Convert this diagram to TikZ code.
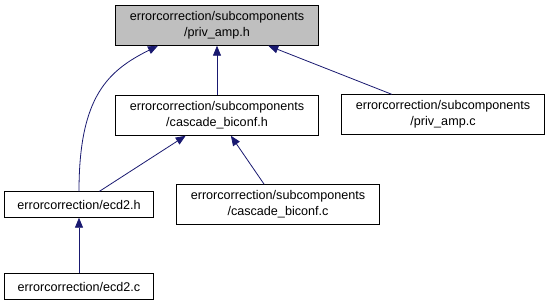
\documentclass[tikz,border=0pt]{standalone}
\usepackage{fontspec}
\setmainfont{Liberation Sans}
\usetikzlibrary{arrows.meta}
\definecolor{edgeblue}{RGB}{25,25,112}
\definecolor{boxgray}{RGB}{191,191,191}
\tikzset{
  file/.style={draw=black, fill=white, align=center, inner sep=0pt,
    font=\fontsize{12.6}{16}\selectfont, minimum width=203pt, minimum height=40pt},
  short/.style={minimum width=149pt, minimum height=26pt},
  inc/.style={draw=edgeblue, line width=0.8pt, {Triangle[length=10pt,width=8pt]}-}
}
\begin{document}
\begin{tikzpicture}[x=1pt,y=-1pt]
  \useasboundingbox (0,0) rectangle (549,305);
  \draw
    (217,25.5) node[file, fill=boxgray] (privamph) {errorcorrection/subcomponents\\/priv\_amp.h}
    (217,115.5) node[file] (cascadeh) {errorcorrection/subcomponents\\/cascade\_biconf.h}
    (443,114.5) node[file] (privampc) {errorcorrection/subcomponents\\/priv\_amp.c}
    (79,204.5) node[file, short] (ecdh) {errorcorrection/ecd2.h}
    (278,204.5) node[file] (cascadec) {errorcorrection/subcomponents\\/cascade\_biconf.c}
    (79,286.5) node[file, short] (ecdc) {errorcorrection/ecd2.c};
  \begin{scope}[inc]
    \draw (privamph) to (cascadeh);
    \draw (privamph) to (privampc);
    \draw ([xshift=-59pt]privamph.south) .. controls +(-50,25) and +(0,-95) .. (ecdh.north);
    \draw (cascadeh) to (ecdh);
    \draw (cascadeh) to (cascadec);
    \draw (ecdh) to (ecdc);
  \end{scope}
\end{tikzpicture}
\end{document}
